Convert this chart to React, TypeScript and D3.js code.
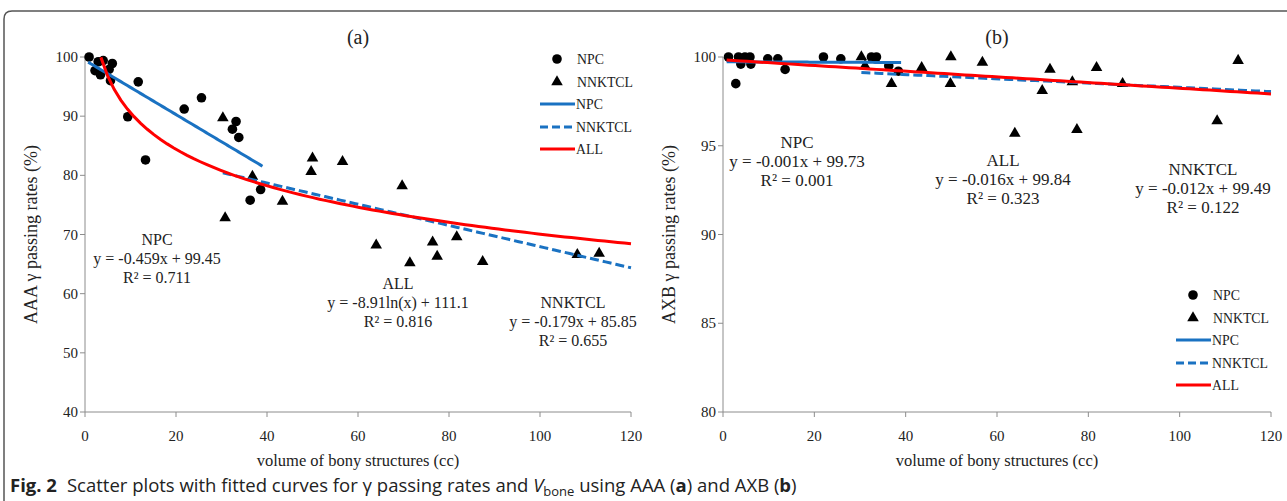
import * as d3 from 'd3';

// volume of bony structures (cc) vs gamma passing rate (%)
const npcA: [number, number][] = [
  [0.9, 100.0], [2.2, 97.7], [2.9, 99.2], [3.4, 97.0], [4.0, 99.4], [5.3, 97.9],
  [5.6, 96.0], [6.0, 98.9], [9.4, 89.9], [11.7, 95.8], [13.3, 82.6], [21.8, 91.2],
  [25.6, 93.1], [32.4, 87.8], [33.2, 89.1], [33.8, 86.4], [36.3, 75.8], [38.6, 77.6],
];
const nnkA: [number, number][] = [
  [30.3, 89.7], [30.8, 72.8], [36.8, 79.8], [43.4, 75.6], [49.7, 80.6], [50.0, 82.9],
  [56.6, 82.3], [64.0, 68.2], [69.7, 78.2], [71.4, 65.2], [76.4, 68.7], [77.4, 66.3],
  [81.7, 69.6], [87.4, 65.4], [108.2, 66.6], [113.0, 66.8],
];
const npcB: [number, number][] = [
  [1.2, 100.0], [2.8, 98.5], [3.4, 100.0], [3.9, 99.6], [4.8, 100.0], [5.9, 100.0],
  [6.1, 99.6], [9.8, 99.9], [12.0, 99.9], [13.6, 99.3], [22.0, 100.0], [25.8, 99.9],
  [32.5, 100.0], [33.6, 100.0], [36.3, 99.5], [38.4, 99.2],
];
const nnkB: [number, number][] = [
  [30.3, 100.0], [31.1, 99.5], [36.9, 98.5], [43.5, 99.4], [49.9, 100.0], [49.8, 98.5],
  [56.8, 99.7], [63.9, 95.7], [69.9, 98.1], [71.6, 99.3], [76.5, 98.6], [77.5, 95.9],
  [81.8, 99.4], [87.5, 98.5], [108.2, 96.4], [112.8, 99.8],
];

const xTicks = [0, 20, 40, 60, 80, 100, 120];
const yTicksA = [40, 50, 60, 70, 80, 90, 100];
const yTicksB = [80, 85, 90, 95, 100];

// fitted trend lines (y = a*x + b, or y = a*ln(x) + b)
type Fit = { kind: 'lin' | 'log'; a: number; b: number; from: number; to: number; color: string; dash?: string };
const fitsA: Fit[] = [
  { kind: 'lin', a: -0.459, b: 99.45, from: 0.7, to: 39, color: '#1a72c2' },
  { kind: 'lin', a: -0.179, b: 85.85, from: 30.3, to: 120, color: '#1a72c2', dash: '9,4' },
  { kind: 'log', a: -8.91, b: 111.1, from: 3.5, to: 120, color: '#ff0000' },
];
const fitsB: Fit[] = [
  { kind: 'lin', a: -0.001, b: 99.73, from: 0.8, to: 39, color: '#1a72c2' },
  { kind: 'lin', a: -0.012, b: 99.49, from: 30.3, to: 120, color: '#1a72c2', dash: '9,4' },
  { kind: 'lin', a: -0.016, b: 99.84, from: 0.8, to: 120, color: '#ff0000' },
];

const eqA = [
  { lines: ['NPC', 'y = -0.459x + 99.45', 'R² = 0.711'], x: 157, y: 240 },
  { lines: ['ALL', 'y = -8.91ln(x) + 111.1', 'R² = 0.816'], x: 398, y: 284 },
  { lines: ['NNKTCL', 'y = -0.179x + 85.85', 'R² = 0.655'], x: 573, y: 303 },
];
const eqB = [
  { lines: ['NPC', 'y = -0.001x + 99.73', 'R² = 0.001'], x: 797, y: 143 },
  { lines: ['ALL', 'y = -0.016x + 99.84', 'R² = 0.323'], x: 1003, y: 161 },
  { lines: ['NNKTCL', 'y = -0.012x + 99.49', 'R² = 0.122'], x: 1203, y: 170 },
];

const serif = '"Liberation Serif", "Times New Roman", serif';
const axisColor = '#8c8c8c';
const tri = d3.symbol(d3.symbolTriangle, 58)() as string;

function Panel({ npc, nnk, fits, eqs, eqSize, yTicks, yDomain, x0, x1, title, yTitle, leg }: any) {
  const x = d3.scaleLinear().domain([0, 120]).range([x0, x1]);
  const y = d3.scaleLinear().domain(yDomain).range([412, 57]);
  const fitY = (f: Fit, v: number) => (f.kind === 'lin' ? f.a * v + f.b : f.a * Math.log(v) + f.b);
  const line = d3.line<number>().x(v => x(v));
  return (
    <g fontFamily={serif} fill="#222">
      <text x={(x0 + x1) / 2} y={44} fontSize={20} textAnchor="middle">{title}</text>
      <line x1={x0} x2={x1} y1={412} y2={412} stroke={axisColor} />
      <line x1={x0} x2={x0} y1={412} y2={57} stroke={axisColor} />
      {xTicks.map(t => (
        <g key={t}>
          <line x1={x(t)} x2={x(t)} y1={412} y2={417} stroke={axisColor} />
          <text x={x(t)} y={441} fontSize={15} textAnchor="middle">{t}</text>
        </g>
      ))}
      {yTicks.map((t: number) => (
        <g key={t}>
          <line x1={x0 - 5} x2={x0} y1={y(t)} y2={y(t)} stroke={axisColor} />
          <text x={x0 - 7} y={y(t) + 5} fontSize={15} textAnchor="end">{t}</text>
        </g>
      ))}
      <text x={(x0 + x1) / 2} y={466} fontSize={16.5} textAnchor="middle">volume of bony structures (cc)</text>
      <text transform={`translate(${x0 - 48},${(412 + 57) / 2}) rotate(-90)`} fontSize={18} textAnchor="middle">{yTitle}</text>
      {npc.map((d: [number, number], i: number) => (
        <circle key={'c' + i} cx={x(d[0])} cy={y(d[1])} r={4.8} fill="#000" />
      ))}
      {nnk.map((d: [number, number], i: number) => (
        <path key={'t' + i} d={tri} transform={`translate(${x(d[0])},${y(d[1])})`} fill="#000" />
      ))}
      {fits.map((f: Fit, i: number) => {
        const vs = d3.range(0, 81).map(k => f.from + (f.to - f.from) * k / 80);
        return <path key={'f' + i} d={line.y(v => y(fitY(f, v)))(vs) as string} fill="none"
          stroke={f.color} strokeWidth={3} strokeDasharray={f.dash} />;
      })}
      {eqs.map((e: any, i: number) => (
        <text key={'e' + i} x={e.x} fontSize={eqSize} textAnchor="middle">
          {e.lines.map((s: string, k: number) => (
            <tspan key={k} x={e.x} y={e.y + 5 + k * 19}>{s}</tspan>
          ))}
        </text>
      ))}
      <g fontSize={13.8}>
        <circle cx={leg.x + 17} cy={leg.y} r={4.8} fill="#000" />
        <text x={leg.x + 37} y={leg.y + 5}>NPC</text>
        <path d={tri} transform={`translate(${leg.x + 17},${leg.y + 23})`} fill="#000" />
        <text x={leg.x + 37} y={leg.y + 28}>NNKTCL</text>
        <line x1={leg.x} x2={leg.x + 35} y1={leg.y + 45} y2={leg.y + 45} stroke="#1a72c2" strokeWidth={3} />
        <text x={leg.x + 36} y={leg.y + 50}>NPC</text>
        <line x1={leg.x} x2={leg.x + 35} y1={leg.y + 68} y2={leg.y + 68} stroke="#1a72c2" strokeWidth={3} strokeDasharray="8,4" />
        <text x={leg.x + 36} y={leg.y + 73}>NNKTCL</text>
        <line x1={leg.x} x2={leg.x + 35} y1={leg.y + 90} y2={leg.y + 90} stroke="#ff0000" strokeWidth={3} />
        <text x={leg.x + 36} y={leg.y + 95}>ALL</text>
      </g>
    </g>
  );
}

export default function App() {
  return (
    <svg width={1287} height={501} style={{ position: 'absolute', left: 0, top: 0, background: '#fff' }}>
      <path d="M4,501 L4,19 Q4,11 12,11 L1295,11" fill="none" stroke="#555" strokeWidth={1.5} />
      <Panel npc={npcA} nnk={nnkA} fits={fitsA} eqs={eqA} eqSize={16} yTicks={yTicksA} yDomain={[40, 100]}
        x0={85} x1={631} title="(a)" yTitle="AAA γ passing rates (%)" leg={{ x: 540, y: 59 }} />
      <Panel npc={npcB} nnk={nnkB} fits={fitsB} eqs={eqB} eqSize={17} yTicks={yTicksB} yDomain={[80, 100]}
        x0={723} x1={1271} title="(b)" yTitle="AXB γ passing rates (%)" leg={{ x: 1176, y: 295 }} />
      <text x={10} y={492} fontFamily='"Open Sans", sans-serif' fontSize={18.5} fill="#222">
        <tspan fontWeight="bold">Fig. 2</tspan>
        <tspan dx={10}>Scatter plots with fitted curves for γ passing rates and </tspan>
        <tspan fontStyle="italic">V</tspan>
        <tspan fontSize={13} dy={4}>bone</tspan>
        <tspan dy={-4}> using AAA (</tspan>
        <tspan fontWeight="bold">a</tspan>
        <tspan>) and AXB (</tspan>
        <tspan fontWeight="bold">b</tspan>
        <tspan>)</tspan>
      </text>
    </svg>
  );
}
